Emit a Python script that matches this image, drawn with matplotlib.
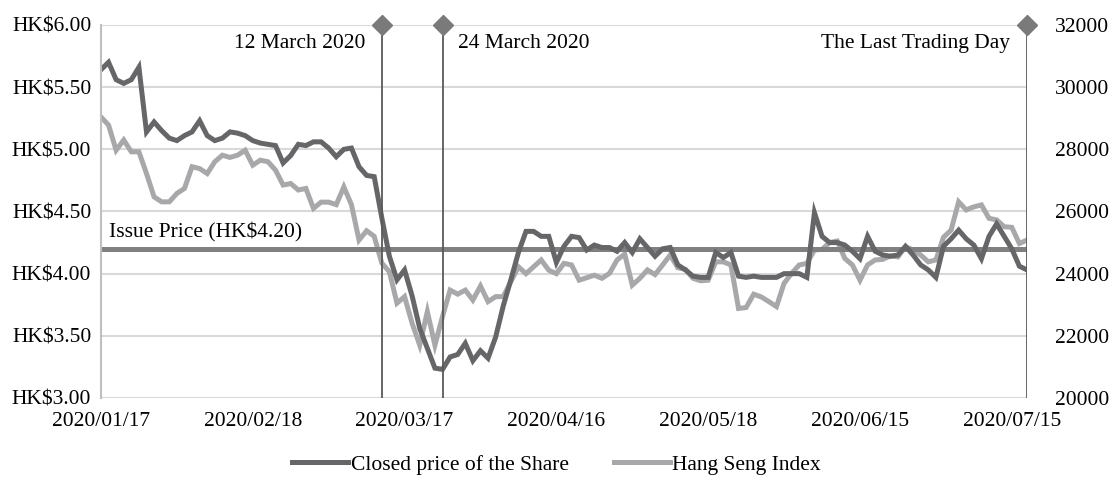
import matplotlib
matplotlib.use("Agg")
import matplotlib.pyplot as plt

plt.rcParams['font.family'] = ['Liberation Serif', 'DejaVu Serif']

# trading-day index labels (every 20 trading days)
tick_pos = [0, 20, 40, 60, 80, 100, 120]
tick_labels = ['2020/01/17', '2020/02/18', '2020/03/17', '2020/04/16',
               '2020/05/18', '2020/06/15', '2020/07/15']

# closing price of the share (HK$)
share = [5.64, 5.70, 5.56, 5.53, 5.56, 5.66, 5.14, 5.22, 5.15, 5.09,
         5.07, 5.11, 5.14, 5.23, 5.11, 5.07, 5.09, 5.14, 5.13, 5.11,
         5.07, 5.05, 5.04, 5.03, 4.89, 4.95, 5.04, 5.03, 5.06, 5.06,
         5.01, 4.94, 5.00, 5.01, 4.86, 4.79, 4.78, 4.45, 4.14, 3.95,
         4.03, 3.82, 3.56, 3.40, 3.24, 3.23, 3.33, 3.35, 3.44, 3.30,
         3.38, 3.32, 3.49, 3.74, 3.95, 4.17, 4.34, 4.34, 4.30, 4.30,
         4.09, 4.22, 4.30, 4.29, 4.19, 4.23, 4.21, 4.21, 4.18, 4.25,
         4.17, 4.28, 4.21, 4.14, 4.20, 4.21, 4.07, 4.03, 3.98, 3.97,
         3.97, 4.17, 4.13, 4.17, 3.98, 3.97, 3.98, 3.97, 3.97, 3.97,
         4.00, 4.00, 4.00, 3.97, 4.49, 4.30, 4.25, 4.25, 4.23, 4.18,
         4.12, 4.30, 4.18, 4.15, 4.14, 4.15, 4.22, 4.15, 4.07, 4.03,
         3.97, 4.22, 4.28, 4.35, 4.28, 4.23, 4.12, 4.30, 4.40, 4.30,
         4.20, 4.06, 4.03]

# Hang Seng Index
hsi = [29040, 28780, 27970, 28300, 27920, 27920, 27220, 26470, 26310, 26310,
       26580, 26740, 27440, 27380, 27220, 27600, 27810, 27740, 27810, 27970,
       27490, 27650, 27600, 27330, 26850, 26900, 26690, 26740, 26100, 26300,
       26300, 26220, 26790, 26220, 25080, 25380, 25200, 24340, 24060, 23050,
       23260, 22400, 21700, 22780, 21700, 22620, 23470, 23340, 23470, 23150,
       23600, 23100, 23260, 23260, 23740, 24220, 24000, 24220, 24440, 24110,
       24000, 24330, 24280, 23790, 23870, 23950, 23850, 24010, 24440, 24630,
       23630, 23850, 24120, 23970, 24280, 24600, 24190, 24140, 23850, 23770,
       23790, 24380, 24380, 24280, 22880, 22910, 23340, 23250, 23100, 22940,
       23690, 24010, 24280, 24330, 24760, 24780, 25000, 25050, 24490, 24280,
       23790, 24280, 24440, 24460, 24570, 24540, 24870, 24760, 24600, 24380,
       24440, 25170, 25400, 26310, 26050, 26150, 26210, 25780, 25730, 25510,
       25490, 24970, 25080]

issue_price = 4.20
event_pos = [37, 45, 122]
event_labels = ['12 March 2020', '24 March 2020', 'The Last Trading Day']

x = list(range(len(share)))

fig = plt.figure(figsize=(11.13, 4.82), dpi=100)
ax = fig.add_axes([0.0907, 0.1743, 0.832, 0.7739])
ax2 = ax.twinx()

ax.set_zorder(ax2.get_zorder() + 1)
ax.patch.set_visible(False)

ax2.plot(x, hsi, color='#a8a8aa', lw=3.6, solid_joinstyle='miter', label='Hang Seng Index')
ax.plot(x, share, color='#666668', lw=3.6, solid_joinstyle='miter', label='Closed price of the Share')
ax.axhline(issue_price, color='#808080', lw=3.6, zorder=1)
ax.text(1, issue_price + 0.05, 'Issue Price (HK$4.20)', fontsize=15.5, va='bottom')

ax.set_xlim(0, 122)
ax.set_ylim(3.0, 6.0)
ax2.set_ylim(20000, 32000)
ax.set_yticks([3.0, 3.5, 4.0, 4.5, 5.0, 5.5, 6.0])
ax.set_yticklabels(['HK$%.2f' % v for v in [3.0, 3.5, 4.0, 4.5, 5.0, 5.5, 6.0]])
ax2.set_yticks(range(20000, 32001, 2000))
ax.set_xticks(tick_pos)
ax.set_xticklabels(tick_labels)

ax2.grid(axis='y', color='#d9d9d9', lw=1.5)
ax2.set_axisbelow(True)
for a in (ax, ax2):
    a.tick_params(length=0, labelsize=15.5)
    for s in a.spines.values():
        s.set_visible(False)
ax.tick_params(axis='y', pad=7)
ax.tick_params(axis='x', pad=10)
ax2.tick_params(axis='y', pad=20)
ax.spines['left'].set_visible(True)
ax.spines['left'].set_color('#bfbfbf')
ax.spines['left'].set_linewidth(1.5)

# event markers
for p in event_pos:
    ax.axvline(p, color='#595959', lw=1.3, zorder=3)
    ax.plot([p], [6.0], marker='D', ms=10, color='#7a7a7a', clip_on=False, zorder=4)
for p, lab, side in zip(event_pos, event_labels, ['right', 'left', 'right']):
    off = -2.2 if side == 'right' else 2.0
    ax.text(p + off, 5.85, lab, fontsize=15.5, ha=side, va='center')

h1, l1 = ax.get_legend_handles_labels()
h2, l2 = ax2.get_legend_handles_labels()
fig.legend(h1 + h2, l1 + l2, loc='lower center', bbox_to_anchor=(0.5, -0.025),
           ncol=2, frameon=False, fontsize=15.5, handlelength=2.6,
           handletextpad=0.1, columnspacing=2.1)

fig.savefig('out.png', dpi=100)
